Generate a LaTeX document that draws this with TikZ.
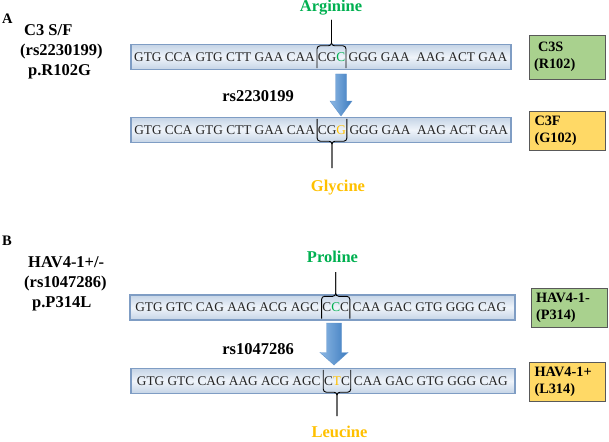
\documentclass[tikz,border=0pt]{standalone}
\usepackage{fontspec}
\setmainfont{Liberation Serif}
\usetikzlibrary{positioning}

\definecolor{aagreen}{HTML}{00B050}
\definecolor{aaorange}{HTML}{FFC000}
\definecolor{barfill}{HTML}{C5D4E6}
\definecolor{barmid}{HTML}{EFF4FA}
\definecolor{barline}{HTML}{7F9DC4}
\definecolor{boxgreen}{HTML}{A9D18E}
\definecolor{boxyellow}{HTML}{FFD966}
\definecolor{arrowlight}{HTML}{8DB8E4}
\definecolor{arrowdark}{HTML}{3C7BBF}

\begin{document}
\begin{tikzpicture}[x=1pt,y=-1pt,
  seqbar/.style={draw=barline, line width=1.2pt, top color=barfill, bottom color=barfill, middle color=barmid, minimum width=380pt, minimum height=25pt, inner sep=0pt},
  seqtxt/.style={font=\fontsize{13.3}{15}\selectfont, text=black!85, inner sep=0pt},
  codon/.style={seqtxt, minimum height=22pt, inner xsep=0.6pt},
  brk/.style={black, line width=0.9pt, rounded corners=3pt},
  lbl/.style={font=\bfseries\fontsize{16.5}{18}\selectfont, inner sep=0pt, anchor=base west},
  aalbl/.style={font=\bfseries\fontsize{16.5}{18}\selectfont, inner sep=0pt, anchor=base},
  allele/.style={draw=black!65, line width=0.8pt, font=\bfseries\fontsize{14.3}{17}\selectfont, align=left, text width=66pt, inner xsep=5pt, inner ysep=0pt, minimum height=39pt},
  blockarrow/.style={left color=arrowlight, right color=arrowdark, draw=arrowdark!80, line width=0.4pt}
]
\useasboundingbox (0,0) rectangle (609,441);

% panel A
\node[lbl] (tagA) at (2,23.5) {\fontsize{14.5}{16}\selectfont A};
\node[lbl] (snpA1) at (24,36) {C3 S/F};
\node[lbl] (snpA2) at (20,56) {(rs2230199)};
\node[lbl] (snpA3) at (28,75.5) {p.R102G};

\node[seqbar] (barA1) at (321,57) {};
\node[codon] (cA1) at (331.5,57) {CG\textcolor{aagreen}{C}};
\node[seqtxt, left=2pt of cA1] (sA1l) {GTG CCA GTG CTT GAA CAA};
\node[seqtxt, right=2.5pt of cA1] (sA1r) {GGG GAA\ \ AAG ACT GAA};

\node[aalbl, text=aagreen] (argA) at (331,12) {Arginine};
\coordinate (tipA1) at (331.5,20);
\draw[brk] (cA1.south west) -- (cA1.north west) -- (cA1.north) -- (tipA1);
\draw[brk] (cA1.south east) -- (cA1.north east) -- (cA1.north) -- (tipA1);

\draw[blockarrow] (335.5,74) -- (346.5,74) -- (346.5,101) -- (352,101) -- (341,116) -- (330,101) -- (335.5,101) -- cycle;
\node[aalbl] (rsA) at (258,101) {rs2230199};

\node[seqbar] (barA2) at (321,130) {};
\node[codon] (cA2) at (332,130) {CG\textcolor{aaorange}{G}};
\node[seqtxt, left=2pt of cA2] (sA2l) {GTG CCA GTG CTT GAA CAA};
\node[seqtxt, right=2.5pt of cA2] (sA2r) {GGG GAA\ \ AAG ACT GAA};

\coordinate (tipA2) at (332,168);
\draw[brk] (cA2.north west) -- (cA2.south west) -- (cA2.south) -- (tipA2);
\draw[brk] (cA2.north east) -- (cA2.south east) -- (cA2.south) -- (tipA2);
\node[aalbl, text=aaorange] (glyA) at (338,191) {Glycine};

\node[allele, fill=boxgreen, minimum height=44pt] (alA1) at (567,57) {\hspace*{4pt}C3S\\(R102)};
\node[allele, fill=boxyellow] (alA2) at (567.5,130.5) {C3F\\(G102)};

% panel B
\node[lbl] (tagB) at (2,245.5) {\fontsize{14.5}{16}\selectfont B};
\node[lbl] (snpB1) at (28,267) {HAV4-1+/-};
\node[lbl] (snpB2) at (24,287) {(rs1047286)};
\node[lbl] (snpB3) at (32,307) {p.P314L};

\node[aalbl, text=aagreen] (proB) at (332.5,262) {Proline};
\node[seqbar, minimum width=385pt] (barB1) at (322.5,307.5) {};
\node[codon] (cB1) at (335.7,307.5) {C\textcolor{aagreen}{C}C};
\node[seqtxt, left=2.5pt of cB1] (sB1l) {GTG GTC CAG AAG ACG AGC};
\node[seqtxt, right=2.5pt of cB1] (sB1r) {CAA GAC GTG GGG CAG};

\coordinate (tipB1) at (335.7,272);
\draw[brk] (cB1.south west) -- (cB1.north west) -- (cB1.north) -- (tipB1);
\draw[brk] (cB1.south east) -- (cB1.north east) -- (cB1.north) -- (tipB1);

\draw[blockarrow] (326.5,323) -- (341.5,323) -- (341.5,352.5) -- (348,352.5) -- (334,365) -- (320,352.5) -- (326.5,352.5) -- cycle;
\node[aalbl] (rsB) at (258,354) {rs1047286};

\node[seqbar, minimum width=384pt] (barB2) at (323,381) {};
\node[codon] (cB2) at (337,381) {C\textcolor{aaorange}{T}C};
\node[seqtxt, left=2.5pt of cB2] (sB2l) {GTG GTC CAG AAG ACG AGC};
\node[seqtxt, right=3pt of cB2] (sB2r) {CAA GAC GTG GGG CAG};

\coordinate (tipB2) at (337,416);
\draw[brk] (cB2.north west) -- (cB2.south west) -- (cB2.south) -- (tipB2);
\draw[brk] (cB2.north east) -- (cB2.south east) -- (cB2.south) -- (tipB2);
\node[aalbl, text=aaorange] (leuB) at (339.5,437) {Leucine};

\node[allele, fill=boxgreen] (alB1) at (569,307.5) {HAV4-1-\\(P314)};
\node[allele, fill=boxyellow] (alB2) at (567.5,381.5) {HAV4-1+\\(L314)};
\end{tikzpicture}
\end{document}
